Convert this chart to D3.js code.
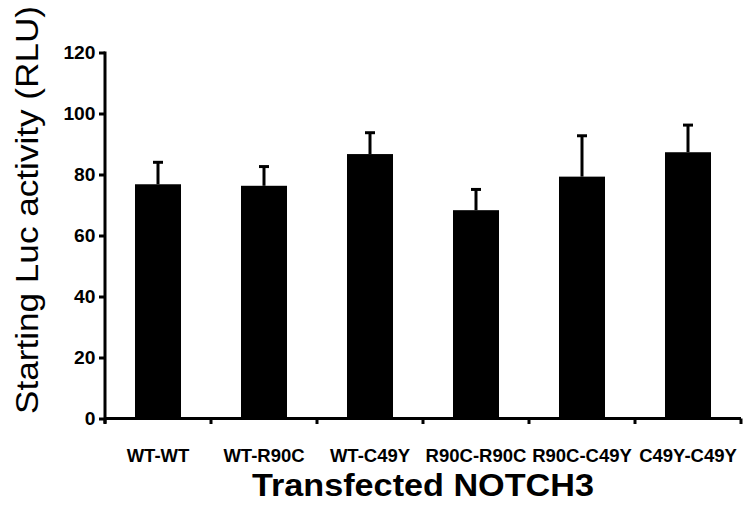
<!DOCTYPE html>
<html>
<head>
<meta charset="utf-8">
<script src="https://cdn.jsdelivr.net/npm/d3@7"></script>
<style>
  body { margin: 0; background: #fff; }
  svg { display: block; font-family: 'Liberation Sans', Arial, sans-serif; }
</style>
</head>
<body>
<svg id="chart" width="744" height="507"></svg>
<script>
// values
const constructs = ['WT-WT', 'WT-R90C', 'WT-C49Y', 'R90C-R90C', 'R90C-C49Y', 'C49Y-C49Y'];
const meanRLU = [76.8, 76.3, 86.7, 68.3, 79.3, 87.3];
const semRLU = [7.2, 6.3, 7.0, 6.8, 13.4, 8.9];
const yTicks = [0, 20, 40, 60, 80, 100, 120];

const margin = { top: 52.5, right: 3, bottom: 88.5, left: 105 };
const width = 744, height = 507;
const innerW = width - margin.left - margin.right;
const innerH = height - margin.top - margin.bottom;

const svg = d3.select('#chart');
const g = svg.append('g')
  .attr('transform', `translate(${margin.left},${margin.top})`);

// bands are one per category, bar is ~43% of the band
const x = d3.scaleBand().domain(constructs).range([0, innerW])
  .paddingInner(0.566).paddingOuter(0.283);
const y = d3.scaleLinear().domain([0, 120]).range([innerH, 0]);

// bars
g.selectAll('.bar')
  .data(constructs)
  .enter()
  .append('rect')
  .attr('class', 'bar')
  .attr('x', d => x(d))
  .attr('width', x.bandwidth())
  .attr('y', (d, i) => y(meanRLU[i]))
  .attr('height', (d, i) => innerH - y(meanRLU[i]))
  .attr('fill', '#000');

// error bars (upper only)
const err = g.selectAll('.err')
  .data(constructs)
  .enter()
  .append('g')
  .attr('class', 'err')
  .attr('transform', d => `translate(${x(d) + x.bandwidth() / 2},0)`);

err.append('line')
  .attr('y1', (d, i) => y(meanRLU[i]))
  .attr('y2', (d, i) => y(meanRLU[i] + semRLU[i]))
  .attr('stroke', '#000')
  .attr('stroke-width', 3);

err.append('line')
  .attr('x1', -5)
  .attr('x2', 5)
  .attr('y1', (d, i) => y(meanRLU[i] + semRLU[i]))
  .attr('y2', (d, i) => y(meanRLU[i] + semRLU[i]))
  .attr('stroke', '#000')
  .attr('stroke-width', 3);

// y axis
const yAxis = g.append('g')
  .call(d3.axisLeft(y).tickValues(yTicks).tickSize(6).tickPadding(4).tickSizeOuter(0));
yAxis.select('.domain').attr('stroke-width', 3).attr('d', `M0,-1V${innerH + 5}`);
yAxis.selectAll('.tick line').attr('stroke-width', 3);
yAxis.selectAll('.tick text')
  .attr('font-size', 17.5)
  .attr('font-weight', 'bold')
  .attr('fill', '#000')
  .attr('transform', 'scale(1.1,1)')
  .attr('x', -9.5 / 1.1);

// x axis: ticks sit on the band boundaries
const bounds = constructs.map(d => x(d) - x.step() * x.paddingInner() / 2).concat([innerW]);
const xAxisG = g.append('g').attr('transform', `translate(0,${innerH})`);
xAxisG.append('line')
  .attr('x1', 0).attr('x2', innerW)
  .attr('stroke', '#000').attr('stroke-width', 3);
xAxisG.selectAll('.xtick')
  .data(bounds)
  .enter()
  .append('line')
  .attr('x1', d => d).attr('x2', d => d)
  .attr('y1', 0).attr('y2', 5.5)
  .attr('stroke', '#000').attr('stroke-width', 3);

// category labels
xAxisG.selectAll('.xlabel')
  .data(constructs)
  .enter()
  .append('text')
  .attr('x', d => x(d) + x.bandwidth() / 2)
  .attr('y', 43)
  .attr('text-anchor', 'middle')
  .attr('font-size', 18.5)
  .attr('font-weight', 'bold')
  .text(d => d);

// axis titles
svg.append('text')
  .attr('x', margin.left + innerW / 2)
  .attr('y', 496)
  .attr('text-anchor', 'middle')
  .attr('font-size', 32)
  .attr('font-weight', 'bold')
  .attr('textLength', 342)
  .attr('lengthAdjust', 'spacingAndGlyphs')
  .text('Transfected NOTCH3');

svg.append('text')
  .attr('transform', 'translate(38,210) rotate(-90)')
  .attr('text-anchor', 'middle')
  .attr('font-size', 31)
  .attr('textLength', 408)
  .attr('lengthAdjust', 'spacingAndGlyphs')
  .text('Starting Luc activity (RLU)');
</script>
</body>
</html>
